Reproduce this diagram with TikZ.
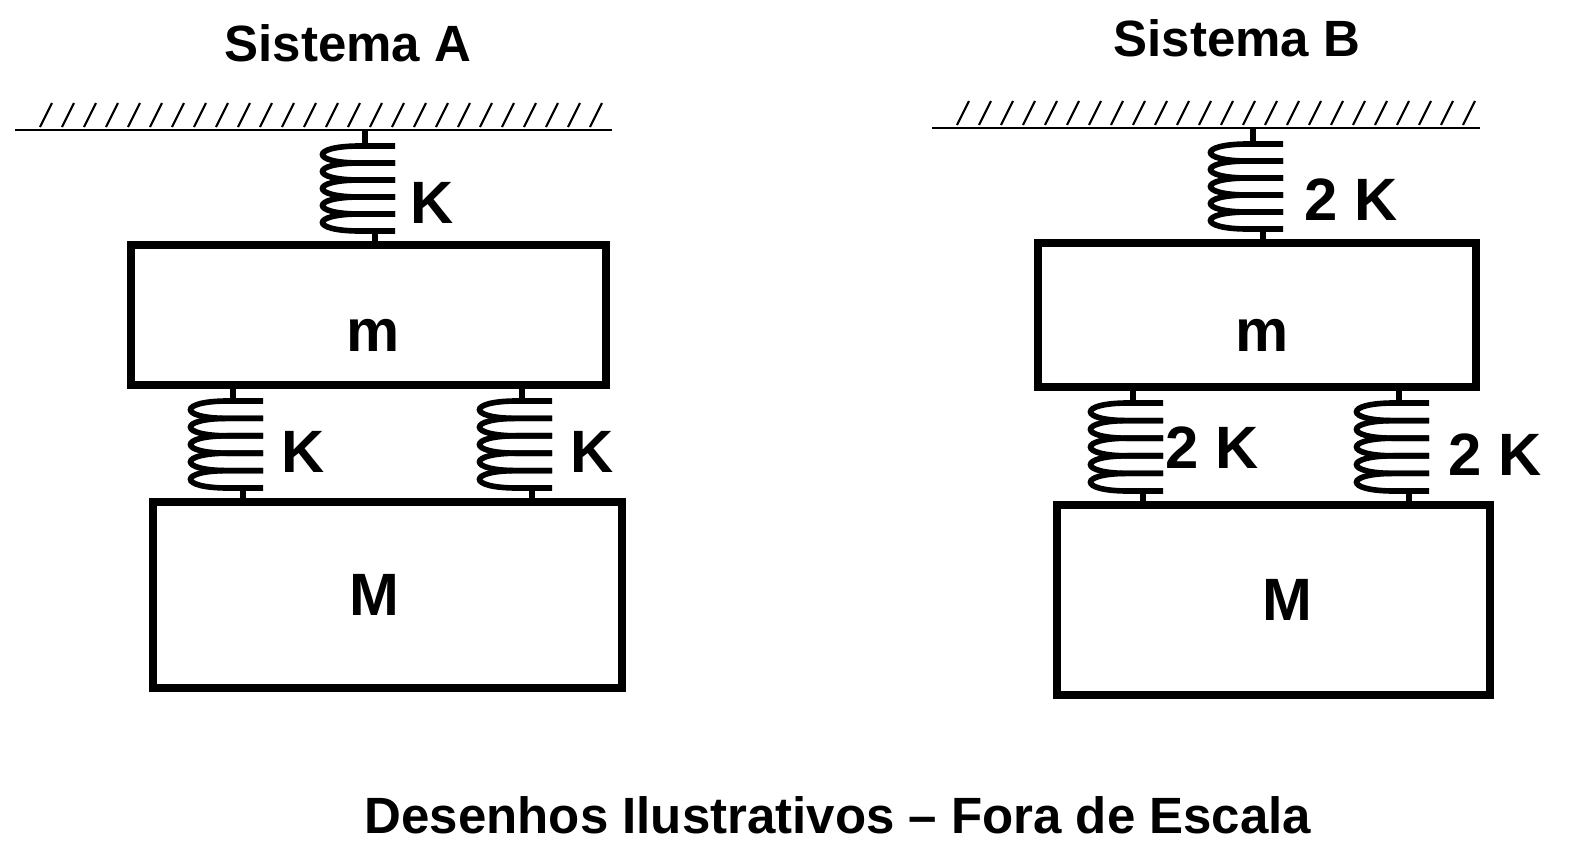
\documentclass[tikz,border=0pt]{standalone}
\usepackage{fontspec}
\setmainfont{Liberation Sans}
\usetikzlibrary{positioning}
\tikzset{
  mass/.style={draw, line width=2.2pt, inner sep=0pt},
  lbl/.style={font=\bfseries\fontsize{17}{20}\selectfont},
  ttl/.style={font=\bfseries\fontsize{14.5}{17}\selectfont},
  coil/.style={line width=1.6pt},
}
% spring: x, y top, y bottom (in units of 0.01cm)
\newcommand{\mola}[3]{%
  \pgfmathsetmacro{\ya}{#2+16}\pgfmathsetmacro{\yb}{#3-14}%
  \pgfmathsetmacro{\hh}{(\yb-\ya)/5}%
  \draw[coil] (#1,#2) -- (#1,\ya) -- (#1-5,\ya);
  \foreach \i in {0,...,4}{
    \pgfmathsetmacro{\yi}{\ya+\i*\hh}\pgfmathsetmacro{\yj}{\yi+\hh}
    \draw[coil] (#1+30,\yi) -- (#1-5,\yi) .. controls (#1-55,\yi) and (#1-55,\yj) .. (#1-5,\yj) -- (#1+30,\yj);
  }
  \draw[coil] (#1+10,\yb) -- (#1+10,#3);
}
\newcommand{\teto}[3]{%
  \draw[line width=0.6pt] (#1,#3) -- (#2,#3);
  \pgfmathsetmacro{\nn}{int((#2-#1-40)/22)}
  \foreach \i in {0,...,\nn}{
    \draw[line width=0.6pt] (#1+25+\i*22,#3-3) -- (#1+37+\i*22,#3-27);
  }
}
\begin{document}
\begin{tikzpicture}[x=0.01cm, y=-0.01cm]
\useasboundingbox (0,0) rectangle (1572,845);
% Sistema A
\node[ttl] (ta) at (348,43) {Sistema A};
\teto{15}{612}{130}
\node[mass, minimum width=4.75cm, minimum height=1.4cm] (ma) at (368.5,315) {};
\node[lbl] at (373,335) {m};
\node[mass, minimum width=4.69cm, minimum height=1.86cm] (Ma) at (387.5,595) {};
\node[lbl] at (374,595) {M};
\mola{365}{130}{245}
\mola{233}{385}{502}
\mola{522}{385}{502}
\node[lbl] (k1) at (432,203) {K};
\node[lbl] (k2) at (303,452) {K};
\node[lbl] (k3) at (592,452) {K};
% Sistema B
\node[ttl] (tb) at (1237,38) {Sistema B};
\teto{932}{1480}{128}
\node[mass, minimum width=4.38cm, minimum height=1.44cm] (mb) at (1257,315) {};
\node[lbl] at (1262,335) {m};
\node[mass, minimum width=4.33cm, minimum height=1.9cm] (Mb) at (1273.5,600) {};
\node[lbl] at (1287,600) {M};
\mola{1253}{128}{243}
\mola{1133}{387}{505}
\mola{1399}{387}{505}
\node[lbl] (k4) at (1351,200) {2 K};
\node[lbl] (k5) at (1212,448) {2 K};
\node[lbl] (k6) at (1495,455) {2 K};
\node[ttl] (cap) at (838,815) {Desenhos Ilustrativos -- Fora de Escala};
\end{tikzpicture}
\end{document}
